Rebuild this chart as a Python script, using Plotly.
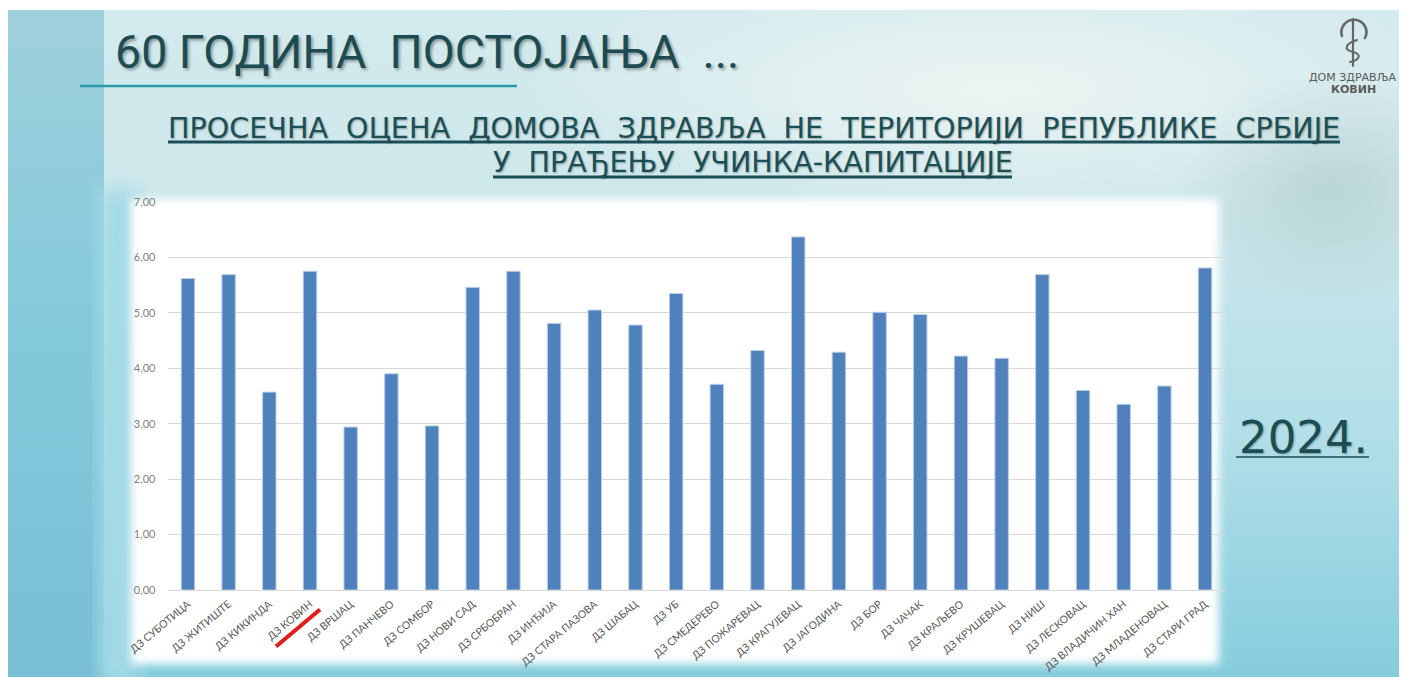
import base64
import plotly.graph_objects as go

W, H = 1407, 677
OFF = 8  # page body margin offset

categories = ["ДЗ СУБОТИЦА", "ДЗ ЖИТИШТЕ", "ДЗ КИКИНДА", "ДЗ КОВИН", "ДЗ ВРШАЦ",
              "ДЗ ПАНЧЕВО", "ДЗ СОМБОР", "ДЗ НОВИ САД", "ДЗ СРБОБРАН", "ДЗ ИНЂИЈА",
              "ДЗ СТАРА ПАЗОВА", "ДЗ ШАБАЦ", "ДЗ УБ", "ДЗ СМЕДЕРЕВО", "ДЗ ПОЖАРЕВАЦ",
              "ДЗ КРАГУЈЕВАЦ", "ДЗ ЈАГОДИНА", "ДЗ БОР", "ДЗ ЧАЧАК", "ДЗ КРАЉЕВО",
              "ДЗ КРУШЕВАЦ", "ДЗ НИШ", "ДЗ ЛЕСКОВАЦ", "ДЗ ВЛАДИЧИН ХАН", "ДЗ МЛАДЕНОВАЦ",
              "ДЗ СТАРИ ГРАД"]
scores = [5.62, 5.69, 3.57, 5.75, 2.94, 3.90, 2.96, 5.46, 5.75, 4.81,
          5.05, 4.78, 5.35, 3.71, 4.32, 6.37, 4.29, 5.01, 4.97, 4.22,
          4.18, 5.69, 3.60, 3.35, 3.68, 5.81]
y_ticks = [0, 1, 2, 3, 4, 5, 6, 7]

title_text = "60 ГОДИНА\u00a0\u00a0ПОСТОЈАЊА\u00a0\u00a0..."
subtitle_1 = "ПРОСЕЧНА\u00a0\u00a0ОЦЕНА\u00a0\u00a0ДОМОВА\u00a0\u00a0ЗДРАВЉА\u00a0\u00a0НЕ\u00a0\u00a0ТЕРИТОРИЈИ\u00a0\u00a0РЕПУБЛИКЕ\u00a0\u00a0СРБИЈЕ"
subtitle_2 = "У\u00a0\u00a0ПРАЂЕЊУ\u00a0\u00a0УЧИНКА-КАПИТАЦИЈЕ"
year_text = "2024."
logo_1 = "ДОМ ЗДРАВЉА"
logo_2 = "КОВИН"


def px(x):
    return (x - OFF) / W


def py(y):
    return 1 - (y - OFF) / H


svg = f'''<svg xmlns="http://www.w3.org/2000/svg" width="{W}" height="{H}" viewBox="0 0 {W} {H}">
<defs>
<linearGradient id="bg" x1="0" y1="0" x2="0" y2="1">
<stop offset="0" stop-color="#d3eaee"/>
<stop offset="0.3" stop-color="#cde7eb"/>
<stop offset="0.65" stop-color="#b0dee8"/>
<stop offset="1" stop-color="#84ccdc"/>
</linearGradient>
<linearGradient id="strip" x1="0" y1="0" x2="0" y2="1">
<stop offset="0" stop-color="#9fd0db"/>
<stop offset="0.5" stop-color="#82c9dc"/>
<stop offset="1" stop-color="#78bfd4"/>
</linearGradient>
<radialGradient id="light" cx="0.5" cy="0.5" r="0.5">
<stop offset="0" stop-color="#eef5f3" stop-opacity="0.95"/>
<stop offset="1" stop-color="#eef5f3" stop-opacity="0"/>
</radialGradient>
<radialGradient id="smoke" cx="0.5" cy="0.5" r="0.5">
<stop offset="0" stop-color="#a3bfbe" stop-opacity="0.45"/>
<stop offset="1" stop-color="#a3bfbe" stop-opacity="0"/>
</radialGradient>
<filter id="blur" x="-5%" y="-5%" width="110%" height="110%"><feGaussianBlur stdDeviation="4"/></filter>
<filter id="blur2" x="-20%" y="-20%" width="140%" height="140%"><feGaussianBlur stdDeviation="10"/></filter>
</defs>
<g transform="translate({-OFF},{-OFF})">
<rect width="{W + OFF}" height="{H + OFF}" fill="#ffffff"/>
<rect x="7" y="10" width="1393" height="{H + OFF - 10}" fill="url(#bg)"/>
<ellipse cx="1000" cy="90" rx="480" ry="130" fill="url(#light)"/>
<ellipse cx="1330" cy="190" rx="150" ry="120" fill="url(#smoke)"/>
<rect x="7" y="10" width="97" height="{H + OFF - 10}" fill="url(#strip)"/>
<rect x="100" y="190" width="40" height="495" fill="#a3dae6" filter="url(#blur2)"/>
<rect x="131" y="199" width="1088" height="465" fill="#ffffff" filter="url(#blur)"/>
<g fill="none" stroke="#666666" stroke-linecap="round">
<path d="M 1342 36 A 12.5 12.5 0 1 1 1365 38" stroke-width="2.6"/>
<line x1="1353" y1="19" x2="1353" y2="66" stroke-width="2.2"/>
<path d="M 1357 40 C 1344 44, 1344 50, 1353 52 C 1362 54, 1360 60, 1350 62" stroke-width="2"/>
</g>
</g>
</svg>'''
svg_uri = "data:image/svg+xml;base64," + base64.b64encode(svg.encode("utf-8")).decode("ascii")

fig = go.Figure()
fig.add_trace(go.Bar(
    x=categories, y=scores,
    marker=dict(color="#4f81bd", line=dict(color="#b9cde6", width=1)),
    hoverinfo="x+y",
))

x0, x1 = 167.6, 1225.4
y_zero, y_top = 590, 202

fig.update_layout(
    width=W, height=H,
    autosize=False,
    margin=dict(l=0, r=0, t=0, b=0, pad=0, autoexpand=False),
    paper_bgcolor="#ffffff",
    plot_bgcolor="rgba(0,0,0,0)",
    separators=",.",
    showlegend=False,
    bargap=0.67,
    font=dict(family="Lato, Open Sans, sans-serif"),
    images=[dict(source=svg_uri, xref="paper", yref="paper", x=0, y=1,
                 sizex=1, sizey=1, xanchor="left", yanchor="top",
                 sizing="stretch", layer="below")],
    xaxis=dict(
        domain=[px(x0), px(x1)],
        automargin=False,
        showgrid=False, showline=False, zeroline=False,
        tickangle=-40,
        tickfont=dict(family="Lato, Open Sans, sans-serif", size=10.5, color="#595959"),
        ticks="outside", ticklen=3, tickcolor="rgba(0,0,0,0)",
        fixedrange=True,
    ),
    yaxis=dict(
        domain=[py(y_zero), py(y_top)],
        automargin=False,
        range=[0, 7],
        tickvals=y_ticks,
        tickformat=".2f",
        showgrid=True, gridcolor="#d9d9d9", gridwidth=1,
        zeroline=True, zerolinecolor="#d9d9d9", zerolinewidth=1,
        showline=False,
        tickfont=dict(family="Lato, Open Sans, sans-serif", size=11, color="#808080"),
        ticks="outside", ticklen=9, tickcolor="rgba(0,0,0,0)",
        fixedrange=True,
    ),
)

annotations = [
    dict(text=title_text, x=px(113), y=py(52), xanchor="left", yanchor="middle",
         font=dict(family="Roboto", size=46.5, color="#1c4c52",
                   shadow="2px 2px 3px rgba(0,0,0,0.35)")),
    dict(text=subtitle_1, x=px(754), y=py(128), xanchor="center", yanchor="middle",
         font=dict(family="DejaVu Sans", size=28.6, color="#1b4f57",
                   shadow="1px 1px 2px rgba(0,0,0,0.3)")),
    dict(text=subtitle_2, x=px(752.5), y=py(162), xanchor="center", yanchor="middle",
         font=dict(family="DejaVu Sans", size=28.6, color="#1b4f57",
                   shadow="1px 1px 2px rgba(0,0,0,0.3)")),
    dict(text=year_text, x=px(1237), y=py(437), xanchor="left", yanchor="middle",
         font=dict(family="DejaVu Sans", size=45, color="#1a4e52",
                   shadow="1px 1px 2px rgba(0,0,0,0.3)")),
    dict(text=logo_1, x=px(1353), y=py(77), xanchor="center", yanchor="middle",
         font=dict(family="DejaVu Sans", size=11, color="#5a5a5a")),
    dict(text="<b>" + logo_2 + "</b>", x=px(1353), y=py(89), xanchor="center", yanchor="middle",
         font=dict(family="DejaVu Sans", size=11, color="#5a5a5a")),
]
for a in annotations:
    a.update(xref="paper", yref="paper", showarrow=False)
fig.update_layout(annotations=annotations)

shapes = [
    dict(type="line", x0=px(80), x1=px(517), y0=py(86), y1=py(86),
         line=dict(color="#2a9aab", width=2.5)),
    dict(type="line", x0=px(168), x1=px(1340), y0=py(142), y1=py(142),
         line=dict(color="#1b4f57", width=3)),
    dict(type="line", x0=px(493), x1=px(1012), y0=py(177), y1=py(177),
         line=dict(color="#1b4f57", width=3)),
    dict(type="line", x0=px(1236), x1=px(1369), y0=py(457), y1=py(457),
         line=dict(color="#1a4e52", width=1.5)),
    dict(type="line", x0=px(276), x1=px(320), y0=py(646.5), y1=py(609.5),
         line=dict(color="#e31c1c", width=4)),
]
for s in shapes:
    s.update(xref="paper", yref="paper", layer="above")
fig.update_layout(shapes=shapes)

fig.write_html("out.html")
